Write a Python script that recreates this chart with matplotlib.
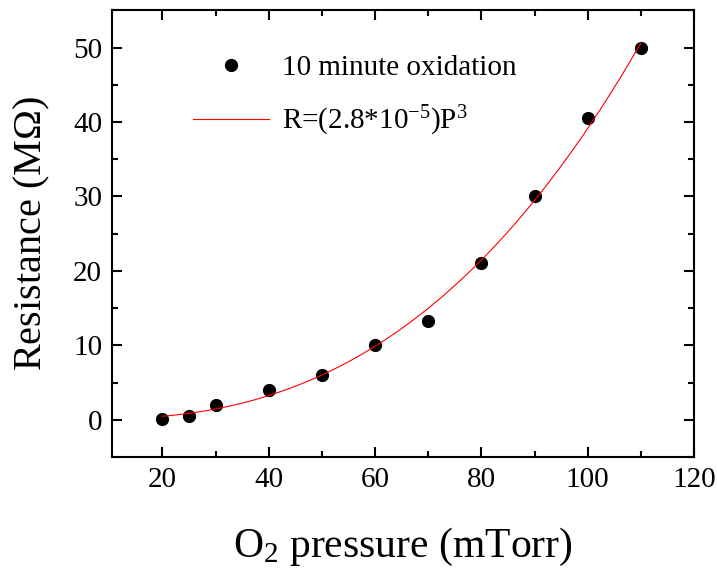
import numpy as np
import matplotlib
matplotlib.use('Agg')
import matplotlib.pyplot as plt
from matplotlib.ticker import MultipleLocator

plt.rcParams['font.family'] = ['Liberation Serif', 'DejaVu Serif']
plt.rcParams['mathtext.fontset'] = 'custom'
plt.rcParams['mathtext.rm'] = 'Liberation Serif'
plt.rcParams['mathtext.it'] = 'Liberation Serif:italic'

# measured data
pressure = [20, 25, 30, 40, 50, 60, 70, 80, 90, 100, 110]
resistance = [0.1, 0.5, 2.0, 4.0, 6.0, 10.0, 13.3, 21.0, 30.0, 40.5, 50.0]

# points
curve_p = [20, 40, 50, 60, 80, 90, 110]
curve_r = [0.4, 3.6, 5.8, 9.9, 21.0, 30.0, 50.5]

coef = np.polyfit(curve_p, curve_r, 3)
fit_p = np.linspace(20, 110, 200)
fit_r = np.polyval(coef, fit_p)

fig = plt.figure(figsize=(7.17, 5.70), dpi=100)
ax = fig.add_axes([0.156, 0.198, 0.812, 0.784])

ax.plot(pressure, resistance, 'o', color='black', markersize=8.5,
        label='10 minute oxidation')
ax.plot(fit_p, fit_r, '-', color='red', linewidth=0.8,
        label=r'R=(2.8*10$^{\mathrm{-5}}$)P$^{\mathrm{3}}$')

ax.set_xlim(10.5, 120)
ax.set_ylim(-5, 55)
ax.xaxis.set_minor_locator(MultipleLocator(10))
ax.yaxis.set_major_locator(MultipleLocator(10))
ax.yaxis.set_minor_locator(MultipleLocator(5))
ax.set_xticks([20, 40, 60, 80, 100, 120])

ax.tick_params(which='both', direction='in', top=True, right=True,
               width=1.5, labelsize=21, pad=7)
ax.tick_params(which='major', length=7)
ax.tick_params(which='minor', length=4)
for s in ax.spines.values():
    s.set_linewidth(1.5)

ax.set_xlabel(r'O$_{\mathrm{2}}$ pressure (mTorr)', fontsize=30, labelpad=24)
ax.set_ylabel(r'Resistance (M$\Omega$)', fontsize=29, labelpad=15)

ax.legend(loc='upper left', bbox_to_anchor=(0.095, 0.96), frameon=False,
          fontsize=21, handlelength=2.6, handletextpad=0.45, labelspacing=0.8)

fig.savefig('out.png', dpi=100)
